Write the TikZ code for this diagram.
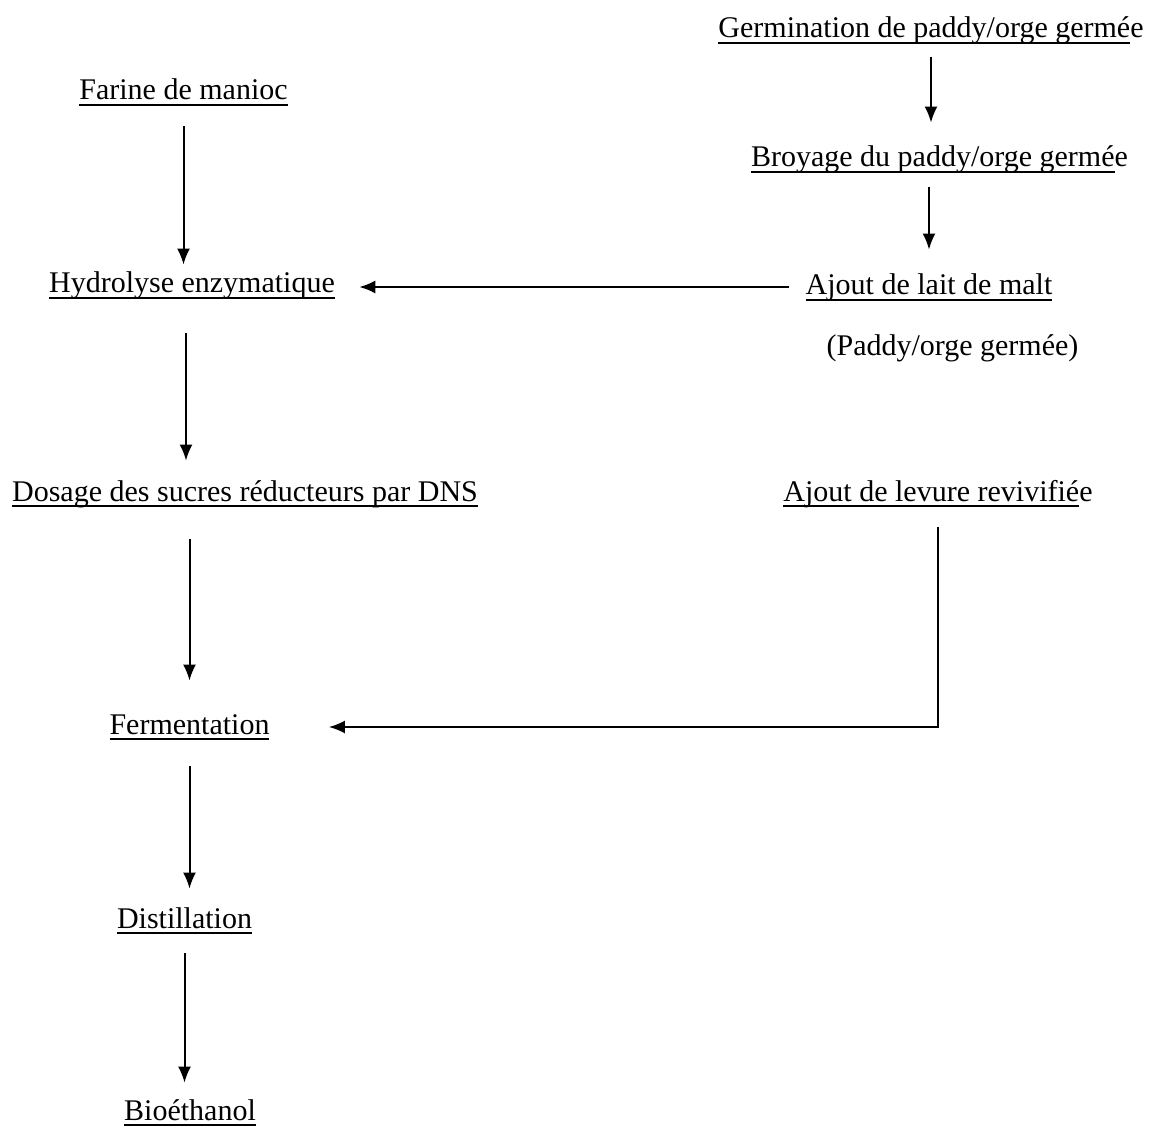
\documentclass[tikz,border=0pt]{standalone}
\usepackage{fontspec}
\setmainfont{Liberation Serif}
\usetikzlibrary{arrows.meta, calc, positioning}
\newlength{\ulwd}
% underlined text, optional tail left without the rule
\newcommand{\ulin}[2][]{\settowidth{\ulwd}{#2}\rlap{\rule[-2.8pt]{\ulwd}{1pt}}#2#1}
\tikzset{
    stage/.style={inner sep=0pt, anchor=base, text height=11pt, text depth=4pt, font=\fontsize{15}{18}\selectfont},
    flow/.style={->, >={Latex[length=8pt, width=6.5pt]}, line width=1pt},
}
\begin{document}
\begin{tikzpicture}[x=0.5pt, y=-0.5pt]
    \useasboundingbox (0,0) rectangle (1156,1128);

    % left column
    \node[stage] (farine) at (183.5, 100) {\ulin{Farine de manioc}};
    \node[stage] (hydro) at (192, 293) {\ulin{Hydrolyse enzymatique}};
    \node[stage] (dosage) at (245, 501) {\ulin{Dosage des sucres réducteurs par DNS}};
    \node[stage] (ferm) at (189.5, 734) {\ulin{Fermentation}};
    \node[stage] (distil) at (184.5, 928) {\ulin{Distillation}};
    \node[stage] (bioeth) at (190, 1120) {\ulin{Bioéthanol}};

    % right column
    \node[stage] (germ) at (931, 38) {\ulin[e]{Germination de paddy/orge germé}};
    \node[stage] (broyage) at (939.5, 167) {\ulin[e]{Broyage du paddy/orge germé}};
    \node[stage] (malt) at (929, 295) {\ulin{Ajout de lait de malt}};
    \node[stage] (paddy) at (952.5, 356) {(Paddy/orge germée)};
    \node[stage] (levure) at (938, 501) {\ulin[e]{Ajout de levure revivifié}};

    \draw[flow, shorten <=5.5pt, shorten >=11pt] (germ.south) -- (germ.south |- broyage.north);
    \draw[flow, shorten <=6pt, shorten >=11.5pt] (malt.north |- broyage.south) -- (malt.north);
    \draw[flow, shorten <=8pt, shorten >=12pt] ([yshift=4pt]malt.base west) -- ([yshift=4pt]malt.base west -| hydro.east);

    \draw[flow, shorten <=9pt, shorten >=3pt] (farine.south) -- (farine.south |- hydro.north);
    \draw[flow, shorten <=16pt, shorten >=9pt] ([xshift=-3pt]hydro.south) -- ([xshift=-3pt]hydro.south |- dosage.north);
    \draw[flow, shorten <=15pt, shorten >=15.5pt] (ferm.north |- dosage.south) -- (ferm.north);
    \draw[flow, shorten <=12pt, shorten >=8.5pt] (ferm.south) -- (ferm.south |- distil.north);
    \draw[flow, shorten <=8.5pt, shorten >=7.5pt] (distil.south) -- (distil.south |- bioeth.north);

    \coordinate (bend) at ([yshift=3.5pt]ferm.base -| levure.south);
    \draw[flow, shorten <=9pt, shorten >=29.5pt] (levure.south) -- (bend) -- ([yshift=3.5pt]ferm.base east);

\end{tikzpicture}
\end{document}
